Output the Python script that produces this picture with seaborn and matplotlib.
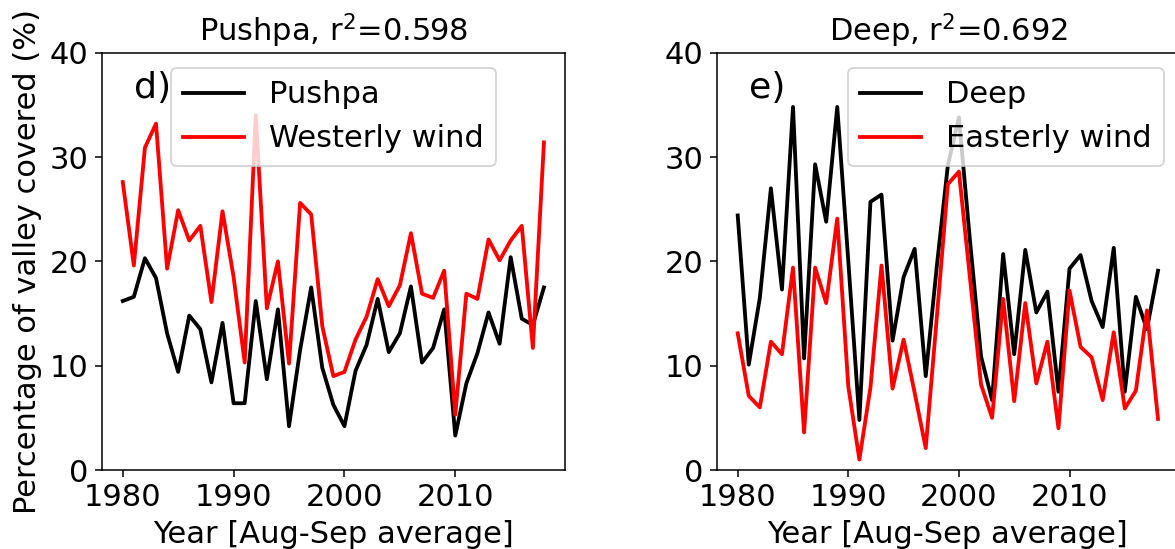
import matplotlib
matplotlib.use("Agg")
import matplotlib.pyplot as plt
import seaborn as sns
import pandas as pd

years = list(range(1980, 2019))

pushpa = [16.2, 16.6, 20.3, 18.4, 13.1, 9.4, 14.8, 13.5, 8.4, 14.1,
          6.4, 6.4, 16.2, 8.7, 15.4, 4.2, 11.5, 17.5, 9.8, 6.25,
          4.2, 9.5, 12.0, 16.4, 11.3, 13.1, 17.6, 10.3, 11.7, 15.4,
          3.3, 8.3, 11.2, 15.1, 12.1, 20.4, 14.5, 13.9, 17.5]
westerly = [27.6, 19.6, 30.9, 33.2, 19.3, 24.9, 22.0, 23.4, 16.1, 24.8,
            18.5, 10.3, 34.0, 15.5, 20.0, 10.2, 25.6, 24.5, 13.8, 9.0,
            9.4, 12.5, 14.7, 18.3, 15.7, 17.7, 22.7, 16.9, 16.5, 19.1,
            5.3, 16.9, 16.4, 22.1, 20.1, 22.0, 23.4, 11.7, 31.4]
deep = [24.4, 10.1, 16.5, 27.0, 17.3, 34.8, 10.7, 29.3, 23.8, 34.8,
        20.0, 4.8, 25.7, 26.4, 12.4, 18.5, 21.2, 9.0, 19.5, 29.2,
        33.8, 22.0, 10.9, 6.7, 20.7, 11.1, 21.1, 15.1, 17.1, 7.5,
        19.3, 20.6, 16.2, 13.7, 21.3, 7.5, 16.6, 13.5, 19.1]
easterly = [13.1, 7.1, 6.0, 12.3, 11.1, 19.4, 3.6, 19.4, 16.0, 24.1,
            8.0, 1.0, 7.9, 19.6, 7.8, 12.5, 7.4, 2.1, 14.6, 27.4,
            28.6, 18.4, 8.2, 5.0, 16.4, 6.6, 16.0, 8.3, 12.3, 4.0,
            17.2, 11.8, 10.8, 6.7, 13.2, 5.9, 7.6, 15.3, 4.9]

titles = ["Pushpa, r$^2$=0.598", "Deep, r$^2$=0.692"]
panel_tags = ["d)", "e)"]
series_names = [("Pushpa", "Westerly wind"), ("Deep", "Easterly wind")]
yticks = [0, 10, 20, 30, 40]
xticks = [1980, 1990, 2000, 2010]

plt.rcParams['font.family'] = ['DejaVu Sans']
FS = 16
DPI = 137.5
W, H = 1175, 549

fig = plt.figure(figsize=(W / DPI, H / DPI), dpi=DPI)
ax1 = fig.add_axes([101.7 / W, (H - 470) / H, 463.3 / W, 417.3 / H])
ax2 = fig.add_axes([716.7 / W, (H - 470) / H, 462.3 / W, 417.3 / H])

panels = [(ax1, pushpa, westerly, "upper center"), (ax2, deep, easterly, "upper right")]
for i, (ax, blk, red, loc) in enumerate(panels):
    df = pd.DataFrame({"year": years, "a": blk, "b": red})
    sns.lineplot(data=df, x="year", y="a", color="black", lw=2.0, ax=ax,
                 label=series_names[i][0])
    sns.lineplot(data=df, x="year", y="b", color="#ff0000", lw=2.0, ax=ax,
                 label=series_names[i][1])
    ax.set_ylim(0, 40)
    ax.set_yticks(yticks)
    ax.set_xticks(xticks)
    ax.tick_params(labelsize=FS)
    ax.set_xlabel("Year [Aug-Sep average]", fontsize=FS)
    ax.set_ylabel("")
    ax.set_title(titles[i], fontsize=FS)
    ax.legend(loc=loc, fontsize=FS)
    ax.text(0.07, 0.915, panel_tags[i], transform=ax.transAxes, fontsize=19,
            ha="left", va="center")

ax1.set_ylabel("Percentage of valley covered (%)", fontsize=FS)

fig.savefig("out.png", dpi=DPI)
